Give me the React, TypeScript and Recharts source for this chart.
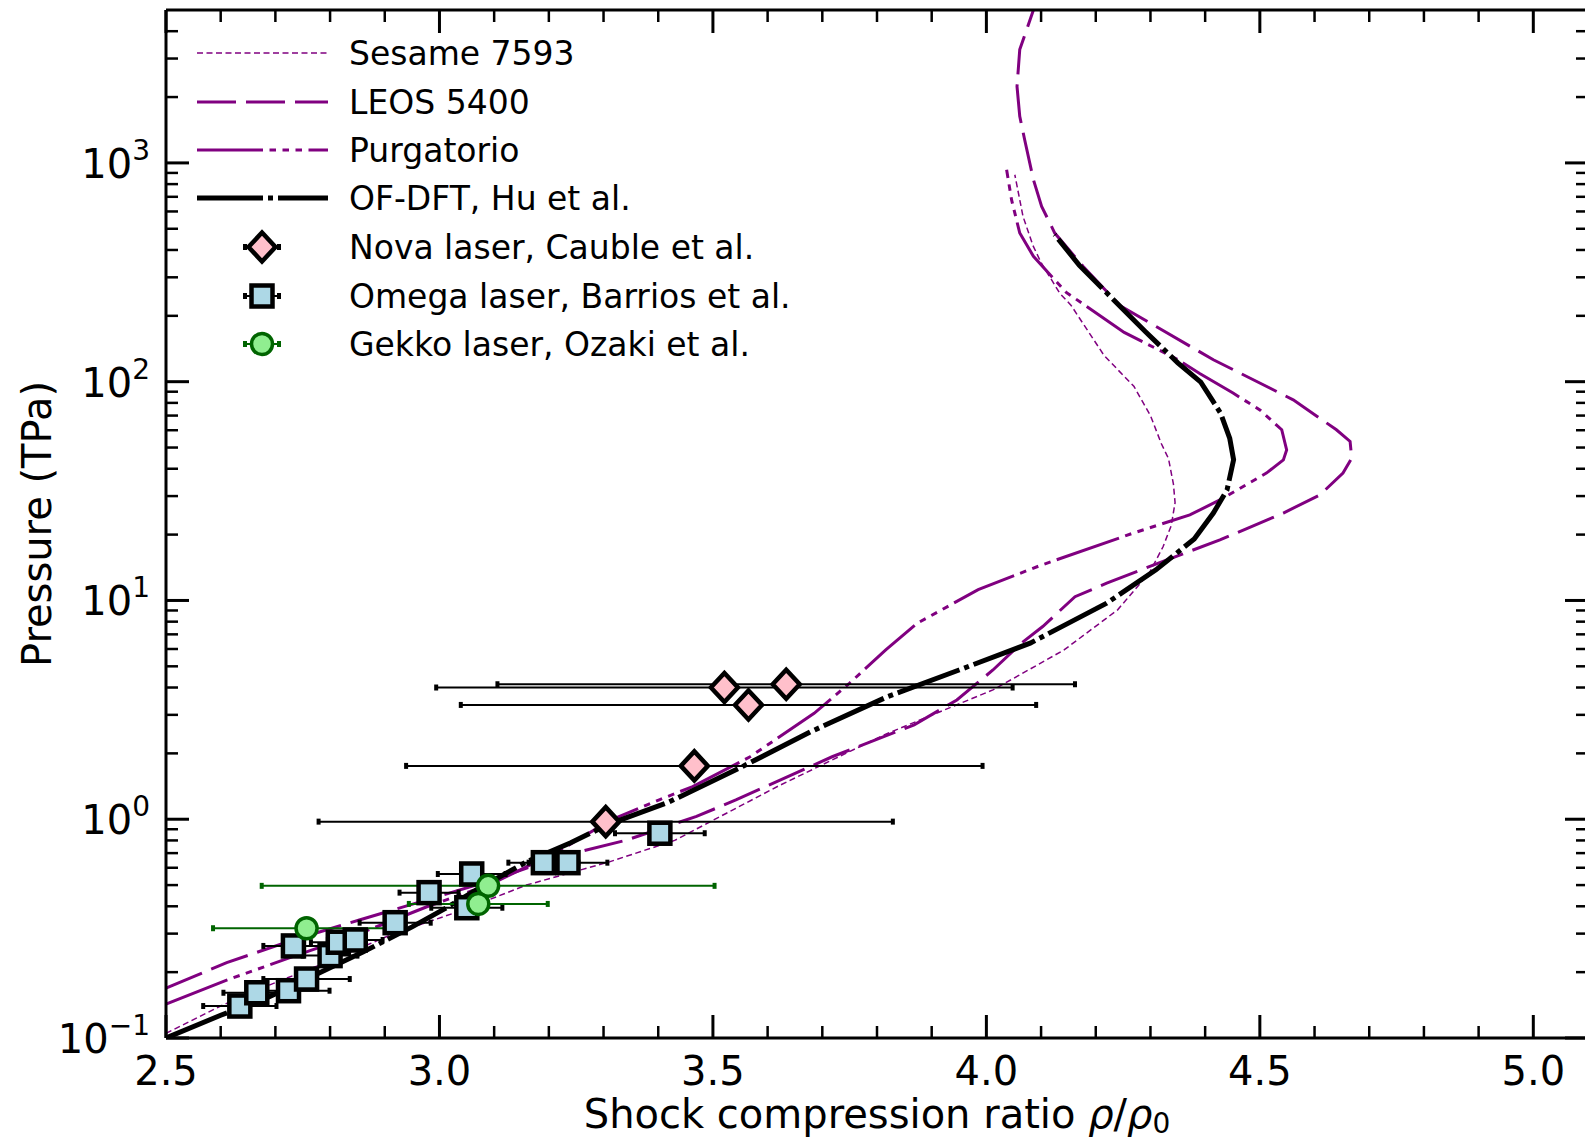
import React from 'react';
import { ComposedChart, Line, Scatter, XAxis, YAxis, ErrorBar, Legend } from 'recharts';

// Hugoniot models: compression ratio (x) vs pressure in TPa (p)
const sesameX = [2.5, 2.6, 2.672, 2.794, 2.916, 3.037, 3.159, 3.312, 3.43, 3.62, 3.816, 4.012, 4.142, 4.24, 4.299, 4.323, 4.338, 4.345, 4.342, 4.333, 4.32, 4.3, 4.27, 4.215, 4.155, 4.134, 4.1, 4.085, 4.067, 4.052];
const sesameP = [0.105, 0.14, 0.168, 0.222, 0.3, 0.38, 0.5, 0.64, 0.8, 1.42, 2.45, 3.9, 5.94, 9.06, 13.5, 17.6, 22, 28, 34, 44.5, 52, 70, 95, 132, 223, 254, 350, 420, 569, 883];

const leosX = [2.5, 2.611, 2.733, 2.855, 2.977, 3.098, 3.22, 3.34, 3.47, 3.542, 3.718, 3.868, 3.946, 4.012, 4.064, 4.103, 4.162, 4.22, 4.329, 4.427, 4.543, 4.61, 4.652, 4.668, 4.665, 4.64, 4.561, 4.415, 4.244, 4.177, 4.125, 4.101, 4.086, 4.07, 4.061, 4.056, 4.061, 4.086];
const leosP = [0.169, 0.221, 0.281, 0.347, 0.428, 0.528, 0.675, 0.8, 1.03, 1.225, 1.93, 2.7, 3.51, 4.81, 6.38, 7.6, 10.4, 12.0, 15.3, 18.9, 25.1, 30.4, 38.2, 44.7, 53.3, 60.3, 82.6, 126, 223, 336, 478, 633, 838, 1276, 1632, 2238, 3295, 5000];

const purgX = [2.5, 2.611, 2.733, 2.855, 2.977, 3.098, 3.22, 3.313, 3.403, 3.463, 3.568, 3.685, 3.75, 3.816, 3.874, 3.985, 4.097, 4.268, 4.372, 4.427, 4.512, 4.543, 4.549, 4.54, 4.5, 4.451, 4.39, 4.348, 4.252, 4.146, 4.086, 4.061, 4.046, 4.037];
const purgP = [0.143, 0.184, 0.236, 0.301, 0.398, 0.51, 0.72, 0.99, 1.23, 1.41, 1.93, 3.05, 4.19, 5.94, 7.88, 11.2, 14.4, 20.3, 24.6, 28.8, 38.2, 43.9, 48.8, 60.3, 74.3, 88.7, 109, 127, 168, 256, 374, 478, 679, 931];

const ofdftX = [2.5, 2.6, 2.69, 2.78, 2.86, 2.95, 3.01, 3.07, 3.16, 3.24, 3.31, 3.42, 3.55, 3.68, 3.82, 3.95, 4.08, 4.22, 4.31, 4.38, 4.415, 4.44, 4.452, 4.445, 4.428, 4.392, 4.35, 4.29, 4.226, 4.17, 4.125];
const ofdftP = [0.1, 0.127, 0.155, 0.198, 0.247, 0.322, 0.39, 0.48, 0.64, 0.78, 0.95, 1.2, 1.72, 2.52, 3.64, 4.81, 6.38, 9.72, 13.8, 19.1, 25.1, 32, 44, 55, 72, 99.5, 122, 170, 246, 340, 470];

// experiments, with symmetric error in x
const novaX = [3.521, 3.634, 3.565, 3.466, 3.304];
const novaP = [4.0, 4.14, 3.33, 1.753, 0.975];
const novaErr = [0.527, 0.528, 0.526, 0.527, 0.525];

const omegaX = [2.635, 2.666, 2.724, 2.757, 2.733, 2.8, 2.815, 2.846, 2.919, 2.981, 3.05, 3.059, 3.19, 3.235, 3.403];
const omegaP = [0.14, 0.161, 0.1645, 0.186, 0.2635, 0.238, 0.274, 0.2806, 0.3366, 0.4618, 0.394, 0.562, 0.633, 0.633, 0.863];
const omegaErr = [0.067, 0.061, 0.075, 0.079, 0.055, 0.05, 0.05, 0.05, 0.065, 0.054, 0.065, 0.062, 0.064, 0.072, 0.082];

const gekkoX = [2.757, 3.089, 3.071];
const gekkoP = [0.3175, 0.496, 0.41];
const gekkoErr = [0.171, 0.414, 0.127];

const xTicks = [2.5, 2.6, 2.7, 2.8, 2.9, 3.0, 3.1, 3.2, 3.3, 3.4, 3.5, 3.6, 3.7, 3.8, 3.9, 4.0, 4.1, 4.2, 4.3, 4.4, 4.5, 4.6, 4.7, 4.8, 4.9, 5.0];
const xMajor = [2.5, 3.0, 3.5, 4.0, 4.5, 5.0];
const yTicks = [0.1, 0.2, 0.3, 0.4, 0.5, 0.6, 0.7, 0.8, 0.9, 1, 2, 3, 4, 5, 6, 7, 8, 9, 10, 20, 30, 40, 50, 60, 70, 80, 90, 100, 200, 300, 400, 500, 600, 700, 800, 900, 1000, 2000, 3000, 4000];
const yMajor = [0.1, 1, 10, 100, 1000];
const yMajorExp = ['\u22121', '0', '1', '2', '3'];

const legendLabels = ['Sesame 7593', 'LEOS 5400', 'Purgatorio', 'OF-DFT, Hu et al.', 'Nova laser, Cauble et al.', 'Omega laser, Barrios et al.', 'Gekko laser, Ozaki et al.'];

const FONT = 'DejaVu Sans';
const PURPLE = '#800080';

const pts = (xs: number[], ps: number[]) => xs.map((x, i) => ({ x, p: ps[i] }));
const ptsErr = (xs: number[], ps: number[], es: number[]) => xs.map((x, i) => ({ x, p: ps[i], ex: es[i] }));

const sesameData = pts(sesameX, sesameP);
const leosData = pts(leosX, leosP);
const purgData = pts(purgX, purgP);
const ofdftData = pts(ofdftX, ofdftP);
const novaData = ptsErr(novaX, novaP, novaErr);
const omegaData = ptsErr(omegaX, omegaP, omegaErr);
const gekkoData = ptsErr(gekkoX, gekkoP, gekkoErr);

const sesameDash = '6 3.5';
const leosDash = '39 10';
const purgDash = '66 6.5 6.5 6.5 6.5 6.5 6.5 6.5';
const ofdftDash = '66 5 5 5';

const Diamond = (cx: number, cy: number) => (
  <path d={`M${cx},${cy - 14.5}L${cx + 13.5},${cy}L${cx},${cy + 14.5}L${cx - 13.5},${cy}Z`} fill="#FFC0CB" stroke="#000" strokeWidth={4.5} />
);
const Square = (cx: number, cy: number) => (
  <rect x={cx - 10.5} y={cy - 10.5} width={21} height={21} fill="#ADD8E6" stroke="#000" strokeWidth={4.5} />
);
const Circle = (cx: number, cy: number) => (
  <circle cx={cx} cy={cy} r={10.5} fill="#90EE90" stroke="#006400" strokeWidth={3.5} />
);

const isMajorX = (v: number) => xMajor.some((m) => Math.abs(m - v) < 1e-9);
const majorYIndex = (v: number) => yMajor.findIndex((m) => Math.abs(m - v) < 1e-12);

function BottomTick(props: any) {
  const { x, y, payload } = props;
  const major = isMajorX(payload.value);
  return (
    <g>
      <line x1={x} y1={y} x2={x} y2={y - (major ? 23 : 12)} stroke="#000" strokeWidth={major ? 3 : 2.5} />
      {major && (
        <text x={x} y={y + 47} textAnchor="middle" fontFamily={FONT} fontSize={40} fill="#000">
          {payload.value.toFixed(1)}
        </text>
      )}
    </g>
  );
}

function TopTick(props: any) {
  const { x, y, payload } = props;
  const major = isMajorX(payload.value);
  return <line x1={x} y1={y} x2={x} y2={y + (major ? 23 : 12)} stroke="#000" strokeWidth={major ? 3 : 2.5} />;
}

function LeftTick(props: any) {
  const { x, y, payload } = props;
  const idx = majorYIndex(payload.value);
  const major = idx >= 0;
  return (
    <g>
      <line x1={x} y1={y} x2={x + (major ? 23 : 12)} y2={y} stroke="#000" strokeWidth={major ? 3 : 2.5} />
      {major && (
        <text x={x - 16} y={y + 15} textAnchor="end" fontFamily={FONT} fontSize={40} fill="#000">
          10
          <tspan dy={-18} fontSize={28}>{yMajorExp[idx]}</tspan>
        </text>
      )}
    </g>
  );
}

function RightTick(props: any) {
  const { x, y, payload } = props;
  const major = majorYIndex(payload.value) >= 0;
  return <line x1={x} y1={y} x2={x - (major ? 23 : 12)} y2={y} stroke="#000" strokeWidth={major ? 3 : 2.5} />;
}

function XTitle(props: any) {
  const { x, y, width } = props.viewBox;
  return (
    <text x={x + width / 2} y={y + 90} textAnchor="middle" fontFamily={FONT} fontSize={40} fill="#000">
      Shock compression ratio <tspan fontStyle="italic">ρ</tspan>/<tspan fontStyle="italic">ρ</tspan>
      <tspan dy={5} fontSize={28}>0</tspan>
    </text>
  );
}

function YTitle(props: any) {
  const { y, height } = props.viewBox;
  const cy = y + height / 2;
  return (
    <text x={51} y={cy} transform={`rotate(-90 51 ${cy})`} textAnchor="middle" fontFamily={FONT} fontSize={40} fill="#000">
      Pressure (TPa)
    </text>
  );
}

function ErrHandle({ cx, cy, color }: { cx: number; cy: number; color: string }) {
  return (
    <g stroke={color}>
      <line x1={cx - 17} y1={cy} x2={cx + 17} y2={cy} strokeWidth={2} />
      <line x1={cx - 17} y1={cy - 3} x2={cx - 17} y2={cy + 3} strokeWidth={4} />
      <line x1={cx + 17} y1={cy - 3} x2={cx + 17} y2={cy + 3} strokeWidth={4} />
    </g>
  );
}

function LegendBox() {
  const rowY = [53, 102, 150, 198, 247, 296, 344];
  const x1 = 197;
  const x2 = 328;
  const mx = 262;
  return (
    <svg width={820} height={380} style={{ display: 'block' }}>
      <line x1={x1} x2={x2} y1={rowY[0]} y2={rowY[0]} stroke={PURPLE} strokeWidth={1.5} strokeDasharray={sesameDash} />
      <line x1={x1} x2={x2} y1={rowY[1]} y2={rowY[1]} stroke={PURPLE} strokeWidth={3} strokeDasharray={leosDash} />
      <line x1={x1} x2={x2} y1={rowY[2]} y2={rowY[2]} stroke={PURPLE} strokeWidth={3} strokeDasharray={purgDash} />
      <line x1={x1} x2={x2} y1={rowY[3]} y2={rowY[3]} stroke="#000" strokeWidth={5} strokeDasharray={ofdftDash} />
      <ErrHandle cx={mx} cy={rowY[4]} color="#000" />
      {Diamond(mx, rowY[4])}
      <ErrHandle cx={mx} cy={rowY[5]} color="#000" />
      {Square(mx, rowY[5])}
      <ErrHandle cx={mx} cy={rowY[6]} color="#006400" />
      {Circle(mx, rowY[6])}
      {legendLabels.map((t, i) => (
        <text key={t} x={349} y={rowY[i] + 12} fontFamily={FONT} fontSize={33} fill="#000">
          {t}
        </text>
      ))}
    </svg>
  );
}

export default function App() {
  return (
    <div style={{ position: 'absolute', left: 0, top: 0, width: 1585, height: 1141, overflow: 'hidden', background: '#fff' }}>
      <style>{`.recharts-errorBar line:nth-child(1), .recharts-errorBar line:nth-child(3) { stroke-width: 4px; }`}</style>
      <ComposedChart width={1589} height={1141} margin={{ top: 9, right: 0, bottom: 0, left: 0 }}>
        <XAxis
          xAxisId="bottom"
          orientation="bottom"
          dataKey="x"
          type="number"
          domain={[2.5, 5.1]}
          allowDataOverflow
          ticks={xTicks}
          interval={0}
          height={103}
          tickSize={0}
          tickMargin={0}
          tickLine={false}
          tick={BottomTick}
          axisLine={{ stroke: '#000', strokeWidth: 3 }}
          label={XTitle}
        />
        <XAxis
          xAxisId="top"
          orientation="top"
          dataKey="x"
          type="number"
          domain={[2.5, 5.1]}
          allowDataOverflow
          ticks={xTicks}
          interval={0}
          height={1}
          tickSize={0}
          tickMargin={0}
          tickLine={false}
          tick={TopTick}
          axisLine={{ stroke: '#000', strokeWidth: 3 }}
        />
        <YAxis
          yAxisId="left"
          orientation="left"
          dataKey="p"
          type="number"
          scale="log"
          domain={[0.1, 5000]}
          allowDataOverflow
          ticks={yTicks}
          interval={0}
          width={166}
          tickSize={0}
          tickMargin={0}
          tickLine={false}
          tick={LeftTick}
          axisLine={{ stroke: '#000', strokeWidth: 3 }}
          label={YTitle}
        />
        <YAxis
          yAxisId="right"
          orientation="right"
          dataKey="p"
          type="number"
          scale="log"
          domain={[0.1, 5000]}
          allowDataOverflow
          ticks={yTicks}
          interval={0}
          width={1}
          tickSize={0}
          tickMargin={0}
          tickLine={false}
          tick={RightTick}
          axisLine={{ stroke: '#000', strokeWidth: 3 }}
        />
        <Legend layout="vertical" align="center" verticalAlign="middle" wrapperStyle={{ left: 0, top: 0, width: 820, height: 380 }} content={() => <LegendBox />} />

        <Line data={sesameData} xAxisId="bottom" yAxisId="left" dataKey="p" type="linear" stroke={PURPLE} strokeWidth={1.5} strokeDasharray={sesameDash} dot={false} activeDot={false} isAnimationActive={false} />
        <Line data={leosData} xAxisId="bottom" yAxisId="left" dataKey="p" type="linear" stroke={PURPLE} strokeWidth={3} strokeDasharray={leosDash} dot={false} activeDot={false} isAnimationActive={false} />
        <Line data={purgData} xAxisId="bottom" yAxisId="left" dataKey="p" type="linear" stroke={PURPLE} strokeWidth={3} strokeDasharray={purgDash} dot={false} activeDot={false} isAnimationActive={false} />
        <Line data={ofdftData} xAxisId="bottom" yAxisId="left" dataKey="p" type="linear" stroke="#000" strokeWidth={5} strokeDasharray={ofdftDash} dot={false} activeDot={false} isAnimationActive={false} />

        <Scatter data={novaData} xAxisId="bottom" yAxisId="left" dataKey="p" isAnimationActive={false} shape={(s: any) => Diamond(s.cx, s.cy)}>
          <ErrorBar dataKey="ex" direction="x" width={3} stroke="#000" strokeWidth={2} />
        </Scatter>
        <Scatter data={omegaData} xAxisId="bottom" yAxisId="left" dataKey="p" isAnimationActive={false} shape={(s: any) => Square(s.cx, s.cy)}>
          <ErrorBar dataKey="ex" direction="x" width={3} stroke="#000" strokeWidth={2} />
        </Scatter>
        <Scatter data={gekkoData} xAxisId="bottom" yAxisId="left" dataKey="p" isAnimationActive={false} shape={(s: any) => Circle(s.cx, s.cy)}>
          <ErrorBar dataKey="ex" direction="x" width={3} stroke="#006400" strokeWidth={2} />
        </Scatter>
      </ComposedChart>
    </div>
  );
}
